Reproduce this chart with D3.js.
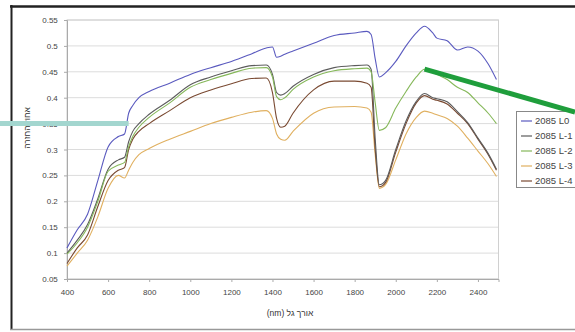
<!DOCTYPE html>
<html><head><meta charset="utf-8">
<script src="https://cdn.jsdelivr.net/npm/d3@7"></script>
<style>body{margin:0;background:#fff}svg{display:block}</style>
</head><body>
<svg id="c" width="575" height="332"></svg>
<script>
const wavelengths = [400,450,500,550,600,650,680,700,720,750,800,900,1000,1100,1200,1300,1370,1400,1420,1440,1460,1500,1600,1700,1800,1860,1880,1900,1920,1950,2000,2050,2100,2140,2180,2200,2250,2300,2350,2400,2450,2490];
const L0  = [0.11,0.145,0.175,0.24,0.305,0.325,0.33,0.37,0.385,0.4,0.412,0.428,0.445,0.458,0.47,0.485,0.496,0.498,0.478,0.48,0.484,0.49,0.505,0.52,0.525,0.528,0.522,0.475,0.44,0.448,0.47,0.5,0.525,0.538,0.525,0.515,0.51,0.492,0.498,0.49,0.465,0.435];
const L1  = [0.1,0.125,0.155,0.205,0.262,0.28,0.285,0.315,0.335,0.35,0.368,0.395,0.425,0.44,0.452,0.462,0.463,0.445,0.41,0.405,0.408,0.422,0.445,0.458,0.462,0.463,0.455,0.32,0.232,0.24,0.3,0.355,0.393,0.408,0.4,0.398,0.392,0.373,0.352,0.322,0.292,0.262];
const L2  = [0.098,0.12,0.15,0.2,0.258,0.27,0.275,0.305,0.325,0.343,0.362,0.39,0.42,0.435,0.447,0.457,0.458,0.44,0.402,0.396,0.4,0.416,0.44,0.452,0.456,0.457,0.45,0.39,0.337,0.342,0.38,0.412,0.44,0.455,0.45,0.445,0.435,0.42,0.41,0.39,0.37,0.35];
const L3  = [0.075,0.1,0.125,0.17,0.225,0.25,0.245,0.26,0.275,0.29,0.302,0.32,0.335,0.35,0.362,0.372,0.375,0.36,0.33,0.32,0.318,0.335,0.37,0.382,0.383,0.38,0.372,0.29,0.225,0.232,0.28,0.33,0.362,0.374,0.37,0.367,0.36,0.345,0.322,0.297,0.272,0.248];
const L4  = [0.08,0.11,0.135,0.19,0.24,0.26,0.265,0.3,0.32,0.335,0.35,0.375,0.4,0.415,0.427,0.437,0.438,0.41,0.36,0.343,0.345,0.37,0.415,0.432,0.432,0.428,0.42,0.3,0.228,0.236,0.295,0.35,0.39,0.404,0.397,0.395,0.388,0.37,0.35,0.32,0.29,0.26];
const seriesNames = ["2085 L0","2085 L-1","2085 L-2","2085 L-3","2085 L-4"];
const seriesColors = ["#5a5abf","#5c5c5c","#86b85a","#e0b060","#7a4a32"];
const xTicks = [400,600,800,1000,1200,1400,1600,1800,2000,2200,2400];
const yTicks = [0.05,0.1,0.15,0.2,0.25,0.3,0.35,0.4,0.45,0.5,0.55];
const xTitle = "אורך גל (nm)";
const yTitle = "אחוז החזרה";

const svg = d3.select("#c");
const font = "Liberation Sans, Arial, sans-serif";
const x = d3.scaleLinear().domain([400,2500]).range([67,498.5]);
const y = d3.scaleLinear().domain([0.05,0.55]).range([279,20]);

// outer frame
svg.append("line").attr("x1",10).attr("x2",575).attr("y1",6.5).attr("y2",6.5).attr("stroke","#222").attr("stroke-width",2.5);
svg.append("line").attr("x1",11.5).attr("x2",11.5).attr("y1",5).attr("y2",330).attr("stroke","#222").attr("stroke-width",2);
svg.append("line").attr("x1",10).attr("x2",575).attr("y1",329.5).attr("y2",329.5).attr("stroke","#999").attr("stroke-width",1.5);

// grid
svg.append("g").selectAll("line").data(yTicks).join("line")
  .attr("x1",67).attr("x2",498.5).attr("y1",d=>y(d)).attr("y2",d=>y(d))
  .attr("stroke","#dcdcdc").attr("stroke-width",1);
svg.append("rect").attr("x",67).attr("y",20).attr("width",431.5).attr("height",259)
  .attr("fill","none").attr("stroke","#d0d0d0");

// axes
const yAxis = d3.axisLeft(y).tickValues(yTicks).tickFormat(d=>String(+d.toFixed(2))).tickSize(3);
const ga = svg.append("g").attr("transform","translate(67,0)").call(yAxis);
const xAxis = d3.axisBottom(x).tickValues(xTicks).tickFormat(d=>String(d)).tickSize(3);
const gx = svg.append("g").attr("transform","translate(0,279)").call(xAxis);
[ga,gx].forEach(g=>{
  g.select(".domain").attr("stroke","#aaa");
  g.selectAll(".tick line").attr("stroke","#aaa");
  g.selectAll("text").attr("font-family",font).attr("font-size",8).attr("fill","#444");
});
gx.selectAll("text").attr("dy","1.3em");
ga.selectAll("text").attr("dx","-0.4em");

svg.append("text").attr("x",290).attr("y",316).attr("text-anchor","middle")
  .attr("font-family",font).attr("font-size",8.5).attr("fill","#333").attr("direction","rtl").text(xTitle);
svg.append("text").attr("transform","translate(30,128) rotate(-90)").attr("text-anchor","middle")
  .attr("font-family",font).attr("font-size",8.5).attr("fill","#333").attr("direction","rtl").text(yTitle);

// lines
const allSeries = [L0,L1,L2,L3,L4];
const line = d3.line().x((d,i)=>x(wavelengths[i])).y(d=>y(d)).curve(d3.curveMonotoneX);
const order = [3,4,1,2,0];
order.forEach(k=>{
  svg.append("path").datum(allSeries[k]).attr("d",line)
    .attr("fill","none").attr("stroke",seriesColors[k]).attr("stroke-width",1.1);
});

// legend
const lg = svg.append("g");
lg.append("rect").attr("x",516.5).attr("y",111.5).attr("width",80).attr("height",76)
  .attr("fill","#fff").attr("stroke","#888");
seriesNames.forEach((n,i)=>{
  const yy = 121 + i*15;
  lg.append("line").attr("x1",521).attr("x2",532).attr("y1",yy).attr("y2",yy)
    .attr("stroke",seriesColors[i]).attr("stroke-width",1.2);
  lg.append("text").attr("x",535).attr("y",yy+3.2).attr("font-family",font)
    .attr("font-size",9.5).attr("fill","#444").text(n);
});

// annotation overlays
svg.append("line").attr("x1",0).attr("x2",x(700)).attr("y1",y(0.35)).attr("y2",y(0.35))
  .attr("stroke","#a3d6cf").attr("stroke-width",5);
svg.append("line").attr("x1",x(2140)).attr("y1",y(0.455)).attr("x2",575).attr("y2",112)
  .attr("stroke","#1f9e3c").attr("stroke-width",5);
</script>
</body></html>
